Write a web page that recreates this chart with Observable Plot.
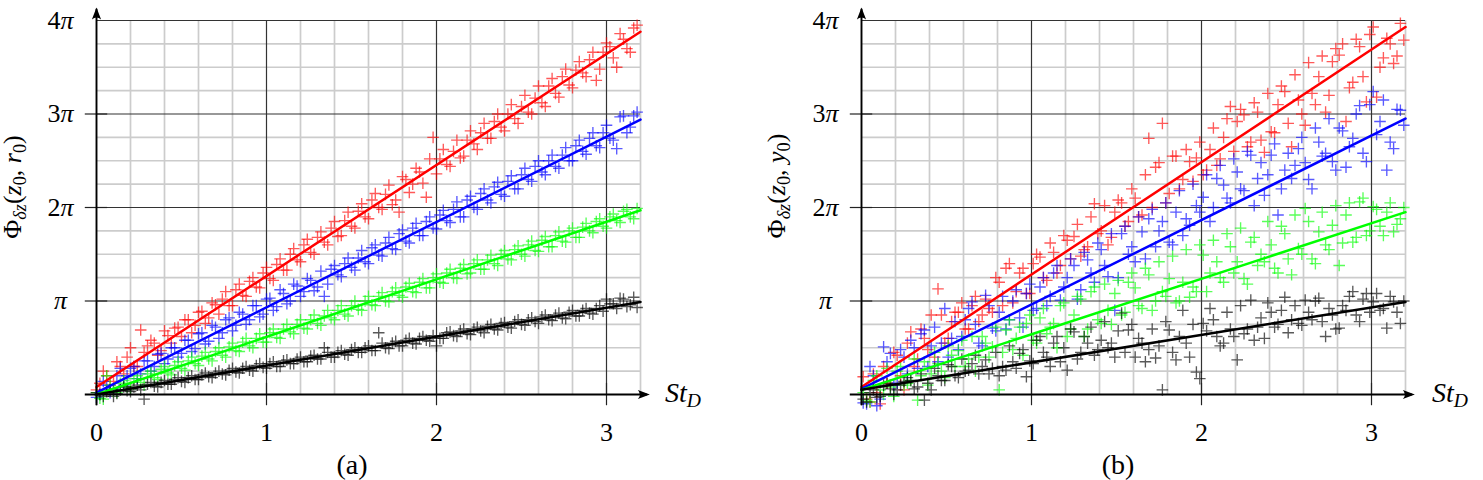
<!DOCTYPE html>
<html>
<head>
<meta charset="utf-8">
<script src="https://cdn.jsdelivr.net/npm/d3@7"></script>
<script src="https://cdn.jsdelivr.net/npm/@observablehq/plot@0.6"></script>
<style>
  html, body { margin: 0; padding: 0; background: #fff; }
  body { width: 1483px; height: 480px; position: relative; overflow: hidden;
         font-family: "Liberation Serif", "DejaVu Serif", serif; color: #000; }
  .panel { position: absolute; top: 0; }
  .ylab { position: absolute; white-space: nowrap; font-size: 26px; line-height: 26px;
          transform: translate(-50%, -50%) rotate(-90deg); }
  .xlab { position: absolute; white-space: nowrap; font-size: 28px; line-height: 28px; }
  .cap  { position: absolute; white-space: nowrap; font-size: 28px; line-height: 28px;
          transform: translateX(-50%); }
  sub { font-size: 70%; vertical-align: -0.28em; line-height: 0; }
  i { font-style: italic; }
</style>
</head>
<body>
<script>
// ---------- panel (a): Φδz(z0, r0), phase in units of π ----------
// first sweep of Strouhal numbers
const stA1 = [0.02,0.06,0.10,0.14,0.18,0.22,0.26,0.30,0.34,0.38,0.42,0.46,0.50,0.54,0.58,0.62,0.66,0.70,0.74,0.78,
              0.82,0.86,0.90,0.94,0.98,1.02,1.06,1.10,1.14,1.18,1.22,1.26,1.30,1.34,1.38,1.42,1.46,1.50,1.54,1.58,
              1.62,1.66,1.70,1.74,1.78,1.82,1.86,1.90,1.94,1.98,2.02,2.06,2.10,2.14,2.18,2.22,2.26,2.30,2.34,2.38,
              2.42,2.46,2.50,2.54,2.58,2.62,2.66,2.70,2.74,2.78,2.82,2.86,2.90,2.94,2.98,3.02,3.06,3.10,3.14,3.18];
const phiA1_red = [0.12,0.20,0.14,0.30,0.40,0.30,0.69,0.52,0.55,0.47,
                   0.63,0.71,0.62,0.80,0.74,0.89,0.82,0.96,1.02,0.95,
                   1.12,1.06,1.21,1.15,1.30,1.24,1.39,1.33,1.50,1.44,
                   1.60,1.52,1.68,1.63,1.78,1.69,1.86,1.80,1.96,1.90,
                   2.08,2.00,2.14,2.03,1.95,2.30,2.25,2.38,2.11,2.75,
                   2.52,2.46,2.60,2.53,2.72,2.68,2.80,2.74,2.92,2.86,
                   3.00,2.95,3.08,3.02,3.17,3.12,3.30,3.22,3.40,3.31,
                   3.47,3.44,3.58,3.36,3.66,3.72,3.50,3.80,3.66,3.95];
const phiA1_blue = [0.00,0.10,0.06,0.28,0.20,0.30,0.22,0.36,0.30,0.44,
                    0.38,0.50,0.44,0.58,0.49,0.66,0.57,0.72,0.66,0.82,
                    0.74,0.86,0.80,0.95,0.86,1.03,0.94,1.08,1.00,1.16,
                    1.10,1.22,1.15,1.05,1.34,1.28,1.40,1.36,1.46,1.42,
                    1.57,1.49,1.62,1.56,1.72,1.64,1.78,1.70,1.85,1.78,
                    1.92,1.86,1.98,1.90,2.08,2.00,2.15,2.08,2.22,2.14,
                    2.28,2.20,2.35,2.30,2.44,2.38,2.50,2.44,2.56,2.50,
                    2.66,2.60,2.74,2.66,2.80,2.74,2.63,2.98,2.86,3.02];
const phiA1_green = [-0.04,0.20,0.03,0.12,0.08,0.17,0.13,0.22,0.18,0.27,
                     0.23,0.31,0.28,0.36,0.33,0.41,0.38,0.46,0.42,0.51,
                     0.47,0.56,0.52,0.60,0.56,0.66,0.61,0.70,0.67,0.75,
                     0.71,0.80,0.76,0.84,0.82,0.90,0.86,0.95,0.91,1.00,
                     0.96,1.05,1.00,1.10,1.06,1.15,1.10,1.20,1.14,1.25,
                     1.20,1.30,1.25,1.35,1.29,1.40,1.34,1.44,1.40,1.50,
                     1.45,1.55,1.50,1.60,1.54,1.65,1.58,1.70,1.64,1.75,
                     1.68,1.79,1.75,1.85,1.80,1.90,1.86,1.96,1.90,1.99];
const phiA1_black = [0.00,0.03,-0.02,0.05,0.04,0.08,0.05,0.11,0.09,0.13,
                     0.11,0.16,0.14,0.18,0.16,0.21,0.19,0.23,0.22,0.26,
                     0.24,0.28,0.26,0.31,0.29,0.33,0.30,0.36,0.33,0.38,
                     0.35,0.41,0.38,0.50,0.40,0.45,0.43,0.48,0.45,0.50,
                     0.47,0.66,0.50,0.55,0.52,0.58,0.55,0.60,0.58,0.63,
                     0.60,0.66,0.63,0.68,0.65,0.70,0.68,0.73,0.70,0.76,
                     0.72,0.78,0.75,0.80,0.78,0.83,0.80,0.85,0.82,0.88,
                     0.84,0.90,0.87,0.92,0.89,0.97,0.92,1.02,0.96,0.93];
// second sweep of Strouhal numbers
const stA2 = [0.00,0.04,0.08,0.12,0.16,0.20,0.24,0.28,0.32,0.36,0.40,0.44,0.48,0.52,0.56,0.60,0.64,0.68,0.72,0.76,
              0.80,0.84,0.88,0.92,0.96,1.00,1.04,1.08,1.12,1.16,1.20,1.24,1.28,1.32,1.36,1.40,1.44,1.48,1.52,1.56,
              1.60,1.64,1.68,1.72,1.76,1.80,1.84,1.88,1.92,1.96,2.00,2.04,2.08,2.12,2.16,2.20,2.24,2.28,2.32,2.36,
              2.40,2.44,2.48,2.52,2.56,2.60,2.64,2.68,2.72,2.76,2.80,2.84,2.88,2.92,2.96,3.00,3.04,3.08,3.12,3.16];
const phiA2_red = [0.05,0.25,0.10,0.35,0.22,0.50,0.30,0.45,0.58,0.42,
                   0.68,0.55,0.72,0.80,0.66,0.88,0.76,0.98,0.86,1.10,
                   0.95,1.18,1.05,1.25,1.14,1.36,1.22,1.45,1.33,1.56,
                   1.42,1.66,1.50,1.74,1.60,1.85,1.70,1.95,1.78,2.04,
                   1.88,2.15,1.98,2.24,2.08,2.33,2.16,2.42,2.26,2.52,
                   2.36,2.62,2.44,2.72,2.55,2.82,2.62,2.90,2.74,3.00,
                   2.82,3.10,2.90,3.20,3.00,3.30,3.08,3.38,3.18,3.48,
                   3.28,3.56,3.40,3.66,3.48,3.76,3.60,3.86,3.70,3.92];
const phiA2_blue = [-0.03,0.14,0.02,0.20,0.10,0.28,0.17,0.36,0.25,0.43,
                    0.33,0.50,0.40,0.58,0.46,0.65,0.54,0.74,0.60,0.80,
                    0.68,0.88,0.75,0.95,0.83,1.02,0.90,1.12,0.97,1.18,
                    1.05,1.24,1.11,1.32,1.18,1.38,1.26,1.46,1.33,1.54,
                    1.40,1.60,1.48,1.68,1.55,1.76,1.62,1.83,1.70,1.90,
                    1.77,1.97,1.84,2.06,1.90,2.12,1.98,2.20,2.05,2.27,
                    2.12,2.34,2.20,2.42,2.28,2.50,2.35,2.56,2.42,2.64,
                    2.50,2.72,2.57,2.80,2.64,2.88,2.72,2.97,2.80,2.98];
const phiA2_green = [0.02,-0.05,0.10,0.02,0.15,0.06,0.20,0.10,0.25,0.16,
                     0.30,0.21,0.35,0.26,0.40,0.31,0.45,0.36,0.50,0.40,
                     0.55,0.46,0.60,0.50,0.65,0.56,0.70,0.60,0.75,0.65,
                     0.80,0.70,0.85,0.74,0.90,0.80,0.95,0.84,1.00,0.90,
                     1.05,0.95,1.09,0.99,1.14,1.04,1.19,1.09,1.24,1.14,
                     1.29,1.19,1.34,1.24,1.39,1.30,1.44,1.34,1.49,1.38,
                     1.54,1.44,1.59,1.48,1.64,1.53,1.69,1.58,1.74,1.63,
                     1.78,1.68,1.83,1.73,1.88,1.78,1.93,1.84,1.98,1.88];
const phiA2_black = [0.02,-0.02,0.05,0.01,0.08,0.03,0.10,-0.05,0.13,0.08,
                     0.15,0.11,0.18,0.13,0.20,0.16,0.23,0.18,0.25,0.21,
                     0.28,0.23,0.30,0.25,0.33,0.28,0.35,0.30,0.37,0.33,
                     0.40,0.35,0.42,0.38,0.45,0.40,0.47,0.42,0.50,0.45,
                     0.52,0.47,0.55,0.49,0.57,0.52,0.60,0.54,0.62,0.57,
                     0.52,0.60,0.67,0.62,0.70,0.64,0.72,0.66,0.75,0.69,
                     0.77,0.71,0.80,0.74,0.82,0.76,0.85,0.79,0.87,0.81,
                     0.90,0.84,0.92,0.86,0.95,1.02,0.97,1.03,0.94,1.04];

// ---------- panel (b): Φδz(z0, y0), phase in units of π ----------
const stB1 = [0.01,0.05,0.09,0.13,0.17,0.21,0.25,0.29,0.33,0.37,0.41,0.45,0.49,0.53,0.57,0.61,0.65,0.69,0.73,0.77,
              0.81,0.85,0.89,0.93,0.97,1.01,1.05,1.09,1.13,1.17,1.21,1.25,1.29,1.33,1.37,1.41,1.45,1.49,1.53,1.57,
              1.61,1.65,1.69,1.73,1.77,1.81,1.85,1.89,1.93,1.97,2.01,2.05,2.09,2.13,2.17,2.21,2.25,2.29,2.33,2.37,
              2.41,2.45,2.49,2.53,2.57,2.61,2.65,2.69,2.73,2.77,2.81,2.85,2.89,2.93,2.97,3.01,3.05,3.09,3.13,3.17];
const phiB1_red = [0.19,-0.08,0.02,0.30,0.10,0.42,0.05,0.67,0.38,0.60,
                   0.85,1.13,0.55,0.78,0.88,0.70,0.95,0.78,1.02,0.88,
                   1.20,1.35,0.98,1.30,1.08,1.40,1.47,1.22,1.52,1.38,
                   1.65,1.69,1.48,1.58,2.04,1.75,1.60,1.95,2.05,1.85,
                   2.10,1.92,2.74,2.43,2.90,2.15,2.55,2.30,2.49,2.53,
                   2.35,2.62,2.45,2.75,3.08,2.92,2.99,2.70,3.02,2.59,
                   2.81,3.10,3.24,2.65,3.15,2.88,3.22,3.40,3.02,3.56,
                   3.63,2.92,3.34,3.72,3.13,3.93,3.50,3.81,3.54,3.97];
const phiB1_blue = [-0.09,0.30,-0.12,0.51,0.44,0.12,0.40,0.58,0.28,0.69,
                    0.52,0.35,0.92,0.60,0.48,0.80,0.99,0.55,1.06,0.71,
                    0.88,0.70,1.00,0.82,1.08,0.90,1.15,0.95,1.30,1.01,
                    1.25,1.38,1.12,1.44,1.20,1.55,1.26,0.90,1.72,1.50,
                    1.42,1.74,1.88,1.58,1.85,1.63,1.95,1.70,1.81,2.02,
                    2.11,1.85,2.31,2.24,2.05,2.38,2.18,2.56,2.31,2.13,
                    2.56,1.92,2.40,2.31,2.63,2.48,2.20,2.70,2.58,2.49,
                    2.85,2.43,2.74,3.09,2.49,3.24,2.92,2.40,2.63,3.04];
const phiB1_green = [0.02,-0.08,0.20,0.00,0.08,0.25,0.10,0.15,-0.06,0.35,
                     0.22,0.33,0.18,0.42,0.47,0.30,0.62,0.40,0.55,0.51,
                     0.05,0.69,0.48,0.72,0.76,0.58,0.82,0.65,0.76,0.95,
                     0.62,0.85,1.02,0.70,1.15,0.76,0.90,1.08,0.85,1.20,
                     1.14,0.92,1.28,1.00,1.10,1.24,0.98,1.20,1.04,1.10,
                     1.49,1.30,1.42,1.20,1.58,1.42,1.24,1.63,1.38,1.42,
                     1.60,1.30,1.72,1.28,1.56,1.99,1.45,1.74,1.60,1.81,
                     1.38,1.92,1.63,2.06,1.70,2.01,1.80,1.95,1.74,1.88];
const phiB1_black = [-0.05,0.02,-0.03,0.10,0.06,0.05,0.14,0.15,0.08,-0.06,
                     0.05,0.20,0.15,0.30,0.18,0.25,0.33,0.22,0.37,0.28,
                     0.20,0.26,0.35,0.44,0.19,0.33,0.62,0.40,0.55,0.35,
                     0.26,0.67,0.45,0.55,0.42,0.58,0.50,0.40,0.87,0.69,
                     0.40,0.55,0.48,0.39,0.05,0.69,0.37,0.90,0.40,0.24,
                     0.76,0.92,0.62,0.55,0.70,0.37,0.65,1.01,0.72,0.60,
                     0.88,0.75,1.04,0.80,0.76,1.01,0.80,1.03,0.62,0.85,
                     0.71,0.90,1.10,0.78,1.08,0.99,0.90,0.71,0.99,0.76];
const stB2 = [0.03,0.07,0.11,0.15,0.19,0.23,0.27,0.31,0.35,0.39,0.43,0.47,0.51,0.55,0.59,0.63,0.67,0.71,0.75,0.79,
              0.83,0.87,0.91,0.95,0.99,1.03,1.07,1.11,1.15,1.19,1.23,1.27,1.31,1.35,1.39,1.43,1.47,1.51,1.55,1.59,
              1.63,1.67,1.71,1.75,1.79,1.83,1.87,1.91,1.95,1.99,2.03,2.07,2.11,2.15,2.19,2.23,2.27,2.31,2.35,2.39,
              2.43,2.47,2.51,2.55,2.59,2.63,2.67,2.71,2.75,2.79,2.83,2.87,2.91,2.95,2.99,3.03,3.07,3.11,3.15,3.19];
const phiB2_red = [-0.05,0.22,-0.10,0.12,0.45,0.20,0.55,0.30,0.70,0.48,
                   0.40,0.85,0.60,0.88,0.98,0.70,1.05,0.85,0.92,1.25,
                   0.95,1.40,1.10,1.35,1.08,1.50,1.25,1.62,1.30,1.70,
                   1.45,1.82,1.55,1.90,1.72,2.02,1.68,2.08,1.80,2.20,
                   1.90,2.35,2.00,2.48,2.05,2.55,2.20,2.62,2.28,2.70,
                   2.40,2.85,2.52,2.95,2.60,3.05,2.65,3.12,2.72,3.22,
                   2.80,3.30,2.90,3.42,3.00,3.55,3.10,3.62,3.20,3.70,
                   3.75,3.28,3.80,3.40,3.85,3.18,3.60,3.75,3.62,3.79];
const phiB2_blue = [-0.10,0.20,-0.05,0.35,0.10,0.48,0.22,0.50,0.65,0.30,
                    0.72,0.55,0.40,0.78,0.62,0.92,0.75,0.52,0.95,0.68,
                    1.05,0.80,1.12,0.72,1.18,0.92,1.25,1.05,1.38,1.15,
                    1.45,1.02,1.52,1.30,1.62,1.38,1.72,1.25,1.80,1.58,
                    1.90,1.45,1.98,1.75,2.05,1.60,2.18,1.88,2.25,1.95,
                    2.35,2.00,2.45,2.10,2.52,2.20,2.60,2.02,2.48,2.35,
                    2.68,2.20,2.58,2.45,2.75,2.30,2.85,2.55,2.95,2.40,
                    2.82,2.65,3.00,2.58,3.10,2.78,3.15,2.70,3.05,2.88];
const phiB2_green = [-0.06,0.15,0.05,0.28,-0.02,0.30,0.12,0.38,0.20,0.10,
                     0.45,0.25,0.52,0.30,0.58,0.38,0.25,0.62,0.40,0.72,
                     0.45,0.80,0.60,0.42,0.85,0.55,0.92,0.72,0.50,0.98,
                     0.70,1.05,0.62,1.10,0.80,1.18,0.75,1.22,0.88,1.30,
                     0.95,1.35,0.90,1.42,1.05,1.48,1.00,1.55,1.15,1.60,
                     1.10,1.65,1.25,1.72,1.30,1.78,1.18,1.68,1.50,1.85,
                     1.35,1.80,1.45,1.92,1.50,1.85,1.40,1.95,1.55,2.02,
                     1.62,2.05,1.68,2.10,1.75,1.98,1.70,2.05,1.82,2.00];
const phiB2_black = [-0.08,0.05,-0.02,0.12,0.00,0.10,0.18,0.06,0.22,0.12,
                     0.28,0.15,0.32,0.20,0.38,0.26,0.42,0.30,0.22,0.45,
                     0.30,0.52,0.28,0.48,0.36,0.58,0.45,0.30,0.62,0.50,
                     0.70,0.38,0.62,0.72,0.48,0.78,0.55,0.68,0.45,0.75,
                     0.60,0.35,0.70,0.52,0.78,0.45,0.62,0.55,0.75,0.17,
                     0.68,0.80,0.52,0.88,0.62,0.95,0.70,0.58,0.82,0.98,
                     0.72,0.90,0.66,0.95,0.74,0.88,1.00,0.78,0.92,0.70,
                     0.95,1.05,0.85,1.02,0.88,1.08,0.92,1.05,0.88,1.00];

// Linear fits: phase (units of π) at St = 0 and St = 3.2
const fitSt = [0, 3.2];
const fitA_red = [0.08, 3.88], fitA_blue = [0.02, 2.94], fitA_green = [0.00, 1.97], fitA_black = [0.00, 0.99];
const fitB_red = [0.08, 3.93], fitB_blue = [0.06, 2.95], fitB_green = [0.05, 1.95], fitB_black = [0.05, 0.99];

const seriesColors = ["#ff0000", "#0000ff", "#00ff00", "#000000"];
const xTicks = [0, 1, 2, 3];
const yTicks = [1, 2, 3, 4];
const yTickLabels = ["π", "2π", "3π", "4π"];

const FONT = "Liberation Serif, DejaVu Serif, serif";

// "+" marker drawn as two strokes
const plusMark = {
  draw(ctx, size) {
    const r = Math.sqrt(size / Math.PI);
    ctx.moveTo(-r, 0); ctx.lineTo(r, 0);
    ctx.moveTo(0, -r); ctx.lineTo(0, r);
  }
};
// filled arrow head, tip at the origin pointing up
const arrowHead = {
  draw(ctx) {
    ctx.moveTo(0, 0);
    ctx.lineTo(4.6, 12);
    ctx.quadraticCurveTo(0, 8, -4.6, 12);
    ctx.closePath();
  }
};

// sweeps: list of [st array, [red, blue, green, black] phase arrays]
function panel(width, sweeps, fits) {
  const minorX = d3.range(0.2, 3.21, 0.2).filter(v => Math.abs(v - Math.round(v)) > 1e-6);
  const minorY = d3.range(0.25, 4, 0.25).filter(v => Math.abs(v - Math.round(v)) > 1e-6);
  const marks = [
    Plot.ruleX(minorX, {stroke: "#cccccc", strokeWidth: 1.7}),
    Plot.ruleY(minorY, {stroke: "#cccccc", strokeWidth: 1.7}),
    Plot.ruleX(xTicks.slice(1), {stroke: "#333", strokeWidth: 1.2}),
    Plot.ruleY(yTicks, {stroke: "#333", strokeWidth: 1.2}),
    // tick marks crossing the axes
    Plot.ruleX(xTicks, {y1: -0.12, y2: 0.12, stroke: "#222", strokeWidth: 1.2}),
    Plot.ruleY(yTicks.slice(0, 3), {x1: -0.066, x2: 0.066, stroke: "#222", strokeWidth: 1.2})
  ];
  seriesColors.forEach((color, i) => {
    const pts = sweeps.flatMap(([st, ys]) => ys[i].map((v, j) => ({st: st[j], phi: v})));
    marks.push(Plot.dot(pts, {x: "st", y: "phi", r: 5.8, symbol: plusMark, fill: "none",
                              stroke: color, strokeOpacity: 0.65, strokeWidth: 1.35}));
  });
  fits.forEach((f, i) => {
    const seg = fitSt.map((s, j) => ({st: s, phi: f[j]}));
    marks.push(Plot.line(seg, {x: "st", y: "phi", stroke: seriesColors[i], strokeWidth: 2.5}));
  });
  const multi = yTicks.filter((d, i) => yTickLabels[i].length > 1);
  const single = yTicks.filter((d, i) => yTickLabels[i].length === 1);
  marks.push(
    // axes with arrow heads
    Plot.ruleY([0], {x1: -0.066, x2: 3.24, stroke: "#000", strokeWidth: 1.9}),
    Plot.ruleX([0], {y1: -0.12, y2: 4.12, stroke: "#000", strokeWidth: 1.9}),
    Plot.dot([{st: 3.255, phi: 0}], {x: "st", y: "phi", symbol: arrowHead, rotate: 90, fill: "#000", stroke: "none", r: 5}),
    Plot.dot([{st: 0, phi: 4.14}], {x: "st", y: "phi", symbol: arrowHead, fill: "#000", stroke: "none", r: 5}),
    // tick labels
    Plot.text(xTicks, {x: d => d, y: 0, text: d => String(d), dy: 38, fontSize: 26, fontFamily: FONT}),
    Plot.text(multi, {x: 0, y: d => d, text: d => yTickLabels[d - 1].slice(0, -1),
                      textAnchor: "end", dx: -36, fontSize: 26, fontFamily: FONT}),
    Plot.text(multi, {x: 0, y: d => d, text: d => yTickLabels[d - 1].slice(-1),
                      textAnchor: "start", dx: -36, fontSize: 26, fontStyle: "italic", fontFamily: FONT}),
    Plot.text(single, {x: 0, y: d => d, text: d => yTickLabels[d - 1],
                       textAnchor: "middle", dx: -36, fontSize: 26, fontStyle: "italic", fontFamily: FONT})
  );
  return Plot.plot({
    width, height: 445,
    marginLeft: 96, marginRight: width - 640, marginTop: 20, marginBottom: 51,
    x: {domain: [0, 3.2], axis: null},
    y: {domain: [0, 4], axis: null},
    style: {background: "transparent", overflow: "visible"},
    marks
  });
}

function place(el, left) {
  const wrap = document.createElement("div");
  wrap.className = "panel";
  wrap.style.left = left + "px";
  wrap.appendChild(el);
  document.body.appendChild(wrap);
}

place(panel(741, [[stA1, [phiA1_red, phiA1_blue, phiA1_green, phiA1_black]],
                  [stA2, [phiA2_red, phiA2_blue, phiA2_green, phiA2_black]]],
            [fitA_red, fitA_blue, fitA_green, fitA_black]), 0);
place(panel(718, [[stB1, [phiB1_red, phiB1_blue, phiB1_green, phiB1_black]],
                  [stB2, [phiB2_red, phiB2_blue, phiB2_green, phiB2_black]]],
            [fitB_red, fitB_blue, fitB_green, fitB_black]), 765);

function addHTML(cls, html, left, top) {
  const d = document.createElement("div");
  d.className = cls;
  d.innerHTML = html;
  d.style.left = left + "px";
  d.style.top = top + "px";
  document.body.appendChild(d);
}
addHTML("ylab", "Φ<sub><i>δz</i></sub>(<i>z</i><sub>0</sub>, <i>r</i><sub>0</sub>)", 13, 187);
addHTML("ylab", "Φ<sub><i>δz</i></sub>(<i>z</i><sub>0</sub>, <i>y</i><sub>0</sub>)", 777, 186);
addHTML("xlab", "<i>St<sub>D</sub></i>", 665, 379);
addHTML("xlab", "<i>St<sub>D</sub></i>", 1432, 379);
addHTML("cap", "(a)", 352, 451);
addHTML("cap", "(b)", 1118, 451);
</script>
</body>
</html>
